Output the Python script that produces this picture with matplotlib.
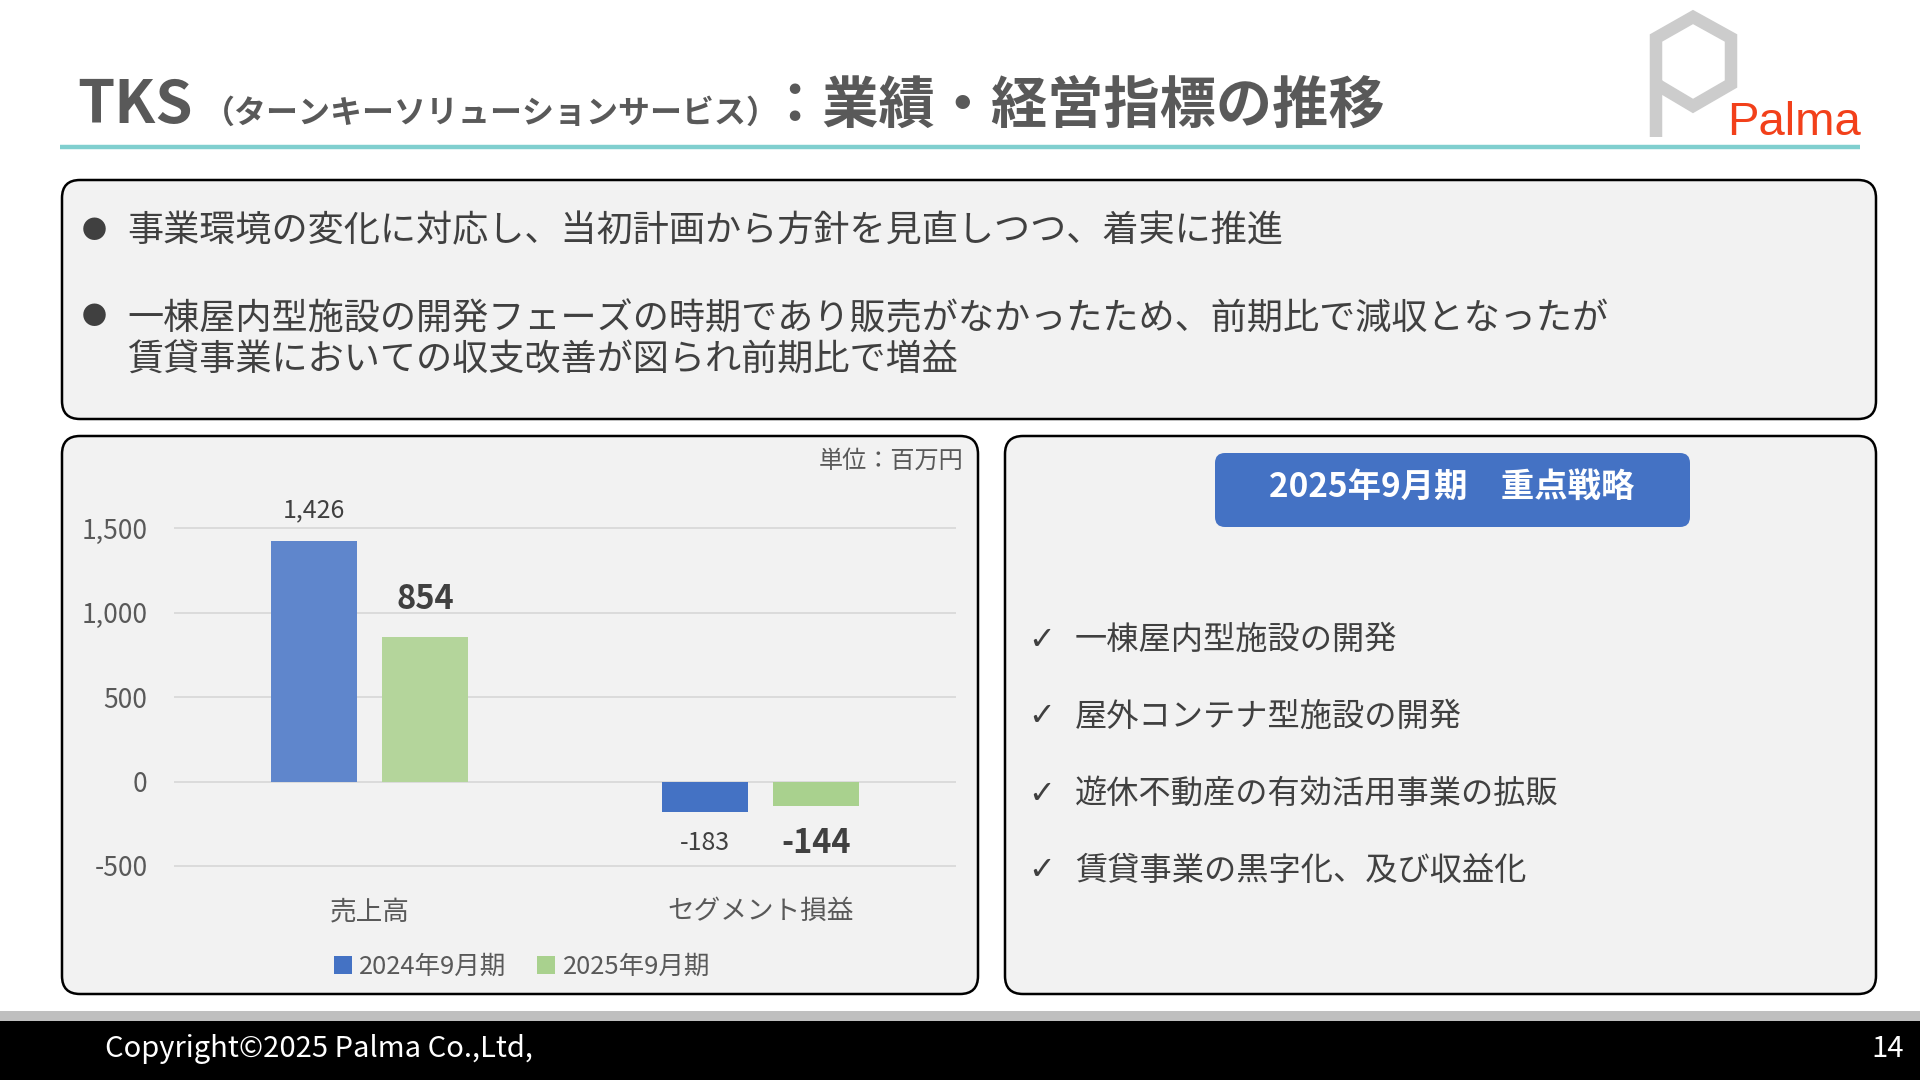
import numpy as np
import matplotlib as mpl
mpl.use('Agg')
import matplotlib.pyplot as plt
from matplotlib.patches import FancyBboxPatch, Rectangle, Patch

plt.rcParams['font.family'] = ['Noto Sans CJK JP', 'DejaVu Sans']

# data
categories = ['売上高', 'セグメント損益']
series_names = ['2024年9月期', '2025年9月期']
values_2024 = [1426, -183]
values_2025 = [854, -144]
y_ticks = [-500, 0, 500, 1000, 1500]

bullets = ['事業環境の変化に対応し、当初計画から方針を見直しつつ、着実に推進',
           '一棟屋内型施設の開発フェーズの時期であり販売がなかったため、前期比で減収となったが\n賃貸事業においての収支改善が図られ前期比で増益']
strategies = ['一棟屋内型施設の開発', '屋外コンテナ型施設の開発',
              '遊休不動産の有効活用事業の拡販', '賃貸事業の黒字化、及び収益化']

W, H = 1920, 1080
mydpi = 100
text_col = '#404040'
panel_col = '#f2f2f2'
blue = '#4472c4'
green = '#a9d18e'

fig = plt.figure(figsize=(W / mydpi, H / mydpi), dpi=mydpi)
fig.patch.set_facecolor('white')

# background layer in pixel coordinates
bg = fig.add_axes([0, 0, 1, 1])
bg.set_xlim(0, W)
bg.set_ylim(H, 0)
bg.axis('off')


def box(x0, y0, x1, y1, fc, ec='black', lw=1.8, r=18):
    bg.add_patch(FancyBboxPatch((x0, y0), x1 - x0, y1 - y0,
                                boxstyle=f'round,pad=0,rounding_size={r}',
                                fc=fc, ec=ec, lw=lw))


# title
bg.text(77, 123, 'TKS', fontsize=43, fontweight='bold', color='#595959', va='baseline')
bg.text(203, 123, '（ターンキーソリューションサービス）', fontsize=23, fontweight='bold',
        color='#595959', va='baseline')
bg.text(766, 123, '：業績・経営指標の推移', fontsize=40.5, fontweight='bold',
        color='#595959', va='baseline')
bg.plot([60, 1860], [147, 147], color='#80cfcf', lw=3.2, solid_capstyle='butt')

# logo
bg.plot([1656, 1656, 1693, 1731, 1731, 1693, 1656],
        [137, 38, 17, 38, 84, 106, 84], color='#cccccc', lw=9,
        solid_joinstyle='miter', solid_capstyle='butt')
bg.text(1727, 135, 'Palma', fontsize=34, color='#f2401a', va='baseline',
        family='Liberation Sans')

# top message box
box(62, 180, 1876, 419, panel_col)
bg.text(94, 231, '●', fontsize=18, color=text_col, va='center', ha='center')
bg.text(127, 231, bullets[0], fontsize=26, color=text_col, va='center')
bg.text(94, 317, '●', fontsize=18, color=text_col, va='center', ha='center')
bg.text(127, 340, bullets[1], fontsize=26, color=text_col, va='center',
        linespacing=1.22)

# panels
box(62, 436, 978, 994, panel_col)
box(1005, 436, 1876, 994, panel_col)

# strategy header
bg.add_patch(FancyBboxPatch((1215, 453), 475, 74,
                            boxstyle='round,pad=0,rounding_size=10',
                            fc=blue, ec='none'))
bg.text(1452, 487, '2025年9月期　重点戦略', fontsize=24, fontweight='bold',
        color='white', ha='center', va='center')
for i, s in enumerate(strategies):
    yy = 640 + i * 77
    bg.text(1042, yy, '✓', fontsize=23, color=text_col, ha='center', va='center',
            family=['DejaVu Sans'])
    bg.text(1075, yy, s, fontsize=23.2, color=text_col, va='center')

# unit label
bg.text(963, 461, '単位：百万円', fontsize=17.4, color='#595959', ha='right', va='center')

# footer
bg.add_patch(Rectangle((0, 1011), W, 10, fc='#bfbfbf', ec='none'))
bg.add_patch(Rectangle((0, 1021), W, 59, fc='black', ec='none'))
bg.text(105, 1049, 'Copyright©2025 Palma Co.,Ltd,', fontsize=21, color='white', va='center')
bg.text(1904, 1049, '14', fontsize=21, color='white', va='center', ha='right')

# chart
ylo, yhi = -650, 1800
px_per = (866 - 528) / 2000
ax_bottom = 866 + (ylo + 500) * -px_per
ax_top = 528 - (yhi - 1500) * px_per
ax = fig.add_axes([174 / W, 1 - ax_bottom / H, (956 - 174) / W, (ax_bottom - ax_top) / H])
ax.set_facecolor('none')
ax.set_xlim(-0.5, 1.5)
ax.set_ylim(ylo, yhi)

x = np.arange(len(categories))
bw = 0.222
off = 0.142
b1 = ax.bar(x - off, values_2024, bw, color=['#5f86cc', blue], zorder=3)
b2 = ax.bar(x + off, values_2025, bw, color=['#b4d59b', green], zorder=3)

for rect, v in zip(b1, values_2024):
    cx = rect.get_x() + rect.get_width() / 2
    dy = 22 if v >= 0 else -22
    ax.annotate(f'{v:,}', (cx, v), xytext=(0, dy), textcoords='offset points',
                ha='center', va='center', fontsize=18, color='#404040')
for rect, v in zip(b2, values_2025):
    cx = rect.get_x() + rect.get_width() / 2
    dy = 27 if v >= 0 else -27
    ax.annotate(f'{v:,}', (cx, v), xytext=(0, dy), textcoords='offset points',
                ha='center', va='center', fontsize=23.5, fontweight='bold', color='#404040')

ax.set_yticks(y_ticks)
ax.set_yticklabels([f'{t:,}' for t in y_ticks])
ax.set_xticks(x)
ax.set_xticklabels(categories)
ax.tick_params(axis='y', length=0, pad=19, labelsize=19, labelcolor='#595959')
ax.tick_params(axis='x', length=0, pad=5, labelsize=19.2, labelcolor='#595959')
ax.yaxis.grid(True, color='#d9d9d9', lw=1.3, zorder=0)
for sp in ax.spines.values():
    sp.set_visible(False)

handles = [Patch(fc=blue), Patch(fc=green)]
fig.legend(handles, series_names, loc='center', bbox_to_anchor=(522 / W, 1 - 967 / H),
           ncol=2, frameon=False, fontsize=18.4, handlelength=0.7, handleheight=0.7,
           handletextpad=0.3, columnspacing=1.2, labelcolor='#595959')

plt.savefig('out.png', dpi=mydpi)
plt.close(fig='all')
